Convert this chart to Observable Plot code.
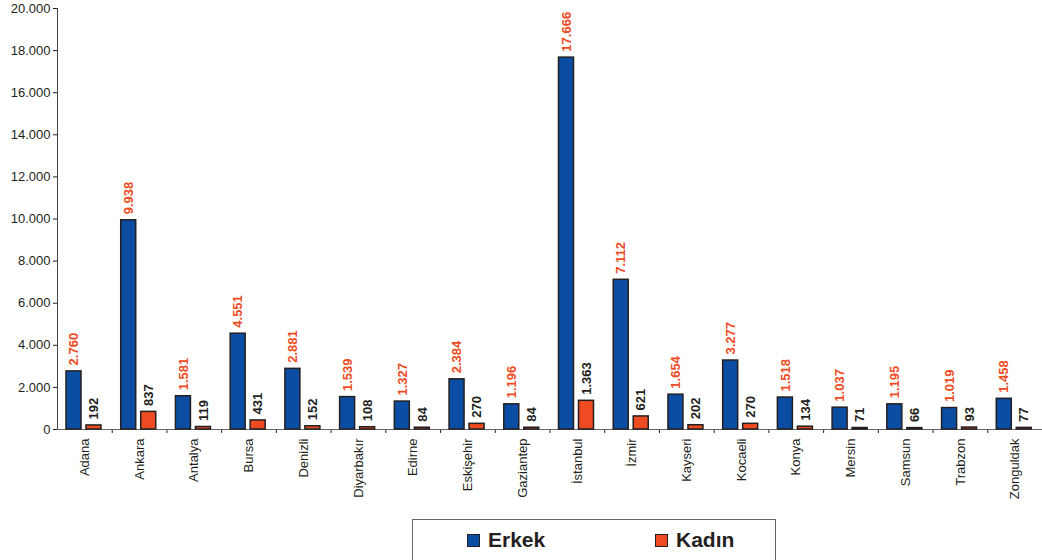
<!DOCTYPE html>
<html><head><meta charset="utf-8">
<script src="https://cdn.jsdelivr.net/npm/d3@7"></script>
<script src="https://cdn.jsdelivr.net/npm/@observablehq/plot@0.6"></script>
<style>
body{margin:0;background:#fff;font-family:"Liberation Sans",Arial,sans-serif;}
#wrap{position:relative;width:1042px;height:560px;overflow:hidden;}
#legend{position:absolute;left:412px;top:519px;width:364px;height:60px;border:1px solid #666;box-sizing:border-box;}
.item{position:absolute;top:8px;font-weight:bold;font-size:21px;color:#231f20;display:flex;align-items:center;}
.sw{width:11px;height:11px;border:1.5px solid #231f20;margin-right:8px;}
</style></head>
<body><div id="wrap"><div id="chart"></div><div id="legend"></div></div>
<script>
const cities = ["Adana","Ankara","Antalya","Bursa","Denizli","Diyarbakır","Edirne","Eskişehir","Gaziantep","İstanbul","İzmir","Kayseri","Kocaeli","Konya","Mersin","Samsun","Trabzon","Zonguldak"];
const erkek = [2760,9938,1581,4551,2881,1539,1327,2384,1196,17666,7112,1654,3277,1518,1037,1195,1019,1458];
const kadin = [192,837,119,431,152,108,84,270,84,1363,621,202,270,134,71,66,93,77];
const yTicks = [0,2000,4000,6000,8000,10000,12000,14000,16000,18000,20000];
const seriesNames = ["Erkek","Kadın"];
const colors = ["#0b4da2","#ef4b23"];

const loc = d3.formatLocale({decimal:",",thousands:".",grouping:[3],currency:["",""]});
const fmt = loc.format(",d");

const dE = cities.map((c,i)=>({city:c,value:erkek[i]}));
const dK = cities.map((c,i)=>({city:c,value:kadin[i]}));

const W = 1042, ML = 57, MR = 0;
const band = (W-ML-MR)/cities.length;
const half = band/2;
const bw = 15, gap = 5;
const offE = 9; // left inset of blue bar
const offK = offE + bw + gap;

const chart = Plot.plot({
  width: W, height: 515,
  marginLeft: ML, marginRight: MR, marginTop: 8, marginBottom: 86,
  style:{fontFamily:'"Liberation Sans",Arial,sans-serif', color:"#231f20", background:"#fff"},
  x:{domain:cities, padding:0, round:false, axis:null, label:null},
  y:{domain:[0,20000], axis:null, label:null},
  marks:[
    Plot.axisY({ticks:yTicks, tickFormat:fmt, tickSize:4, tickPadding:3, fontSize:13, stroke:"#231f20", label:null}),
    Plot.axisX({tickSize:0, tickPadding:9, tickRotate:-90, fontSize:13, label:null}),
    Plot.ruleX([cities[0]], {dx:-half, y1:0, y2:20000, stroke:"#444", strokeWidth:1}),
    Plot.ruleX(cities.slice(1), {dx:-half, y1:0, y2:-190, stroke:"#231f20"}),
    Plot.ruleY([0], {stroke:"#666", strokeWidth:1.2}),
    Plot.barY(dE, {x:"city", y:"value", fill:colors[0], stroke:"#231f20", strokeWidth:1.5, insetLeft:offE, insetRight:band-offE-bw}),
    Plot.barY(dK, {x:"city", y:"value", fill:colors[1], stroke:"#231f20", strokeWidth:1.5, insetLeft:offK, insetRight:band-offK-bw}),
    Plot.text(dE, {x:"city", y:"value", text:d=>fmt(d.value), rotate:-90, textAnchor:"start", dx:offE+bw/2-half, dy:-6, fill:"#ef4b23", fontWeight:"bold", fontSize:13}),
    Plot.text(dK, {x:"city", y:"value", text:d=>fmt(d.value), rotate:-90, textAnchor:"start", dx:offK+bw/2-half, dy:-6, fill:"#231f20", fontWeight:"bold", fontSize:13})
  ]
});
document.getElementById("chart").appendChild(chart);

const lg = document.getElementById("legend");
const lx = [54, 242];
seriesNames.forEach((n,i)=>{
  const it = document.createElement("div");
  it.className="item"; it.style.left = lx[i]+"px";
  const sw = document.createElement("div"); sw.className="sw"; sw.style.background = colors[i];
  it.appendChild(sw); it.appendChild(document.createTextNode(n));
  lg.appendChild(it);
});
</script></body></html>
